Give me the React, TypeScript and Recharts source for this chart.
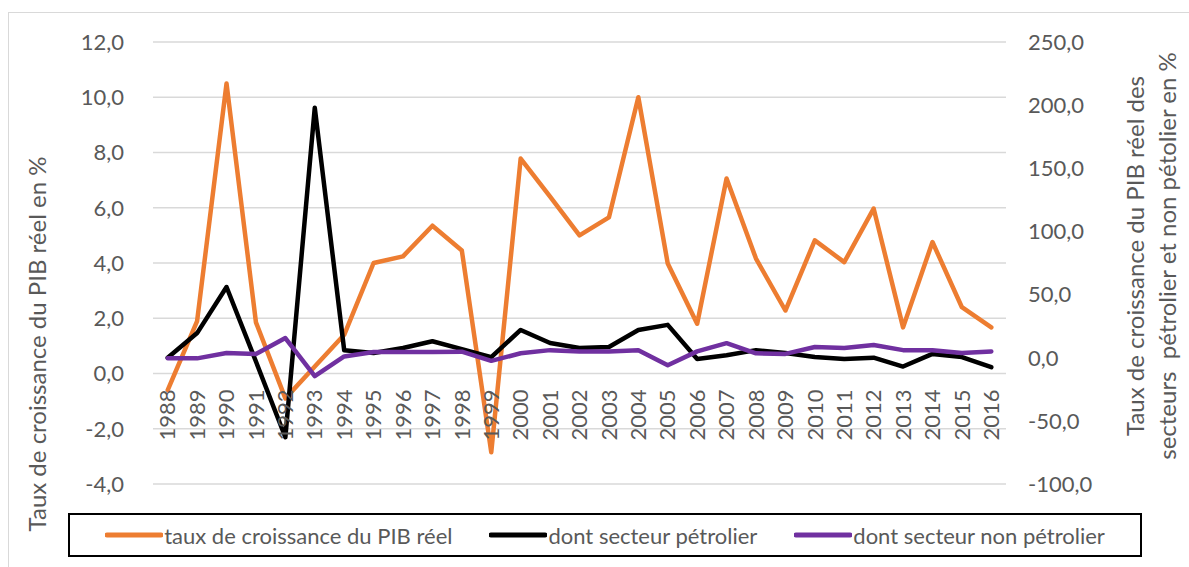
import React from 'react'
import {
  LineChart,
  Line,
  XAxis,
  YAxis,
  CartesianGrid,
  Legend,
} from 'recharts'

const years = [
  '1988', '1989', '1990', '1991', '1992', '1993', '1994', '1995', '1996', '1997',
  '1998', '1999', '2000', '2001', '2002', '2003', '2004', '2005', '2006', '2007',
  '2008', '2009', '2010', '2011', '2012', '2013', '2014', '2015', '2016',
]

// taux de croissance du PIB réel (axe gauche)
const pibReel = [
  -0.6, 1.9, 10.5, 1.85, -0.9, 0.25, 1.4, 4.0, 4.24, 5.35,
  4.45, -2.85, 7.78, 6.4, 5.0, 5.65, 10.0, 3.98, 1.8, 7.06,
  4.16, 2.28, 4.82, 4.03, 5.97, 1.67, 4.76, 2.4, 1.67,
]

// dont secteur pétrolier (axe droit)
const petrolier = [
  0, 19.5, 56, -3, -63, 198, 6, 3.7, 7.7, 13,
  6.8, 0.5, 22, 11.6, 7.7, 8.5, 22, 26, -1, 2,
  6, 3.7, 0.5, -1, 0, -7, 3, 0.5, -7.5,
]

// dont secteur non pétrolier (axe droit)
const nonPetrolier = [
  -0.5, -0.5, 3.7, 3, 15.6, -14.5, 1, 4.5, 4.5, 4.5,
  4.8, -2.5, 3.5, 6, 5, 5, 6, -6, 5, 11.5,
  3.5, 3, 8.5, 7.7, 10, 6, 6, 3.7, 5,
]

const leftTicks = [-4, -2, 0, 2, 4, 6, 8, 10, 12]
const rightTicks = [-100, -50, 0, 50, 100, 150, 200, 250]

const series = [
  { key: 'pib', name: 'taux de croissance du PIB réel', color: '#ED7D31', axis: 'left' },
  { key: 'petro', name: 'dont secteur pétrolier', color: '#000000', axis: 'right' },
  { key: 'nonPetro', name: 'dont secteur non pétrolier', color: '#7030A0', axis: 'right' },
]

const data = years.map((year, i) => ({
  year,
  pib: pibReel[i],
  petro: petrolier[i],
  nonPetro: nonPetrolier[i],
}))

const FONT = 'Lato, "Open Sans", sans-serif'
const TEXT = '#595959'
const FS = 22
const TITLE_FS = 24

const W = 1189
const H = 567
const MARGIN_TOP = 42
const PLOT_BOTTOM = 484
const leftMin = leftTicks[0]
const leftMax = leftTicks[leftTicks.length - 1]

// category labels sit just under the zero line, like Excel's crossing axis
function YearTick(props: any) {
  const { x, payload } = props
  const plotH = PLOT_BOTTOM - MARGIN_TOP
  const zeroY = PLOT_BOTTOM - (plotH * (0 - leftMin)) / (leftMax - leftMin)
  const y = zeroY + 16
  return (
    <text
      x={x}
      y={y}
      transform={`rotate(-90, ${x}, ${y})`}
      textAnchor="end"
      dy="0.35em"
      fill={TEXT}
      fontFamily={FONT}
      fontSize={FS}
    >
      {payload.value}
    </text>
  )
}

const fmt = (v: number) => v.toFixed(1).replace('.', ',')

function LegendBox() {
  return (
    <div
      style={{
        boxSizing: 'border-box',
        width: 1074,
        height: 44,
        border: '2px solid #000',
        display: 'flex',
        alignItems: 'center',
        justifyContent: 'center',
        gap: 37,
        fontFamily: FONT,
        fontSize: FS,
        color: TEXT,
        background: '#fff',
      }}
    >
      {series.map((s) => (
        <div key={s.key} style={{ display: 'flex', alignItems: 'center' }}>
          <svg width={58} height={10}>
            <line x1={2} y1={5} x2={56} y2={5} stroke={s.color} strokeWidth={5} strokeLinecap="round" />
          </svg>
          <span style={{ marginLeft: 1, whiteSpace: 'nowrap' }}>{s.name}</span>
        </div>
      ))}
    </div>
  )
}

export default function App() {
  return (
    <div style={{ position: 'fixed', left: 0, top: 0, width: W, height: H, background: '#fff', overflow: 'hidden' }}>
      <div
        style={{
          position: 'absolute',
          left: 8,
          top: 12,
          width: W,
          height: H,
          border: '1.5px solid #d9d9d9',
        }}
      />
      <div style={{ position: 'absolute', left: 0, top: 0 }}>
        <LineChart
          width={W}
          height={H}
          data={data}
          margin={{ top: MARGIN_TOP, right: 0, bottom: 0, left: 0 }}
        >
          <CartesianGrid yAxisId="left" vertical={false} stroke="#d9d9d9" strokeWidth={1.5} />
          <XAxis
            dataKey="year"
            height={H - PLOT_BOTTOM}
            axisLine={false}
            tickLine={false}
            interval={0}
            padding={{ left: 14.7, right: 14.7 }}
            tick={<YearTick />}
          />
          <YAxis
            yAxisId="left"
            width={153}
            domain={[leftMin, leftMax]}
            ticks={leftTicks}
            axisLine={false}
            tickLine={false}
            tickSize={0}
            tickMargin={29}
            tickFormatter={fmt}
            tick={{ fill: TEXT, fontFamily: FONT, fontSize: FS }}
            label={{
              content: () => (
                <text
                  x={38}
                  y={344}
                  transform="rotate(-90, 38, 344)"
                  textAnchor="middle"
                  dy="0.35em"
                  fill={TEXT}
                  fontFamily={FONT}
                  fontSize={TITLE_FS}
                >
                  Taux de croissance du PIB réel en %
                </text>
              ),
            }}
          />
          <YAxis
            yAxisId="right"
            orientation="right"
            width={183}
            domain={[rightTicks[0], rightTicks[rightTicks.length - 1]]}
            ticks={rightTicks}
            axisLine={false}
            tickLine={false}
            tickSize={0}
            tickMargin={22}
            tickFormatter={fmt}
            tick={{ fill: TEXT, fontFamily: FONT, fontSize: FS }}
            label={{
              content: () => (
                <g fill={TEXT} fontFamily={FONT} fontSize={TITLE_FS}>
                  <text x={1136} y={256} transform="rotate(-90, 1136, 256)" textAnchor="middle" dy="0.35em">
                    Taux de croissance du PIB réel des
                  </text>
                  <text
                    x={1168}
                    y={256}
                    transform="rotate(-90, 1168, 256)"
                    textAnchor="middle"
                    dy="0.35em"
                    style={{ whiteSpace: 'pre' }}
                  >
                    {'secteurs  pétrolier et non pétolier en %'}
                  </text>
                </g>
              ),
            }}
          />
          {series.map((s) => (
            <Line
              key={s.key}
              yAxisId={s.axis}
              type="linear"
              dataKey={s.key}
              name={s.name}
              stroke={s.color}
              strokeWidth={4.5}
              strokeLinejoin="round"
              strokeLinecap="round"
              dot={false}
              activeDot={false}
              isAnimationActive={false}
            />
          ))}
          <Legend
            layout="horizontal"
            verticalAlign="middle"
            align="center"
            wrapperStyle={{ left: 68, top: 513, width: 1074 }}
            content={() => <LegendBox />}
          />
        </LineChart>
      </div>
    </div>
  )
}
